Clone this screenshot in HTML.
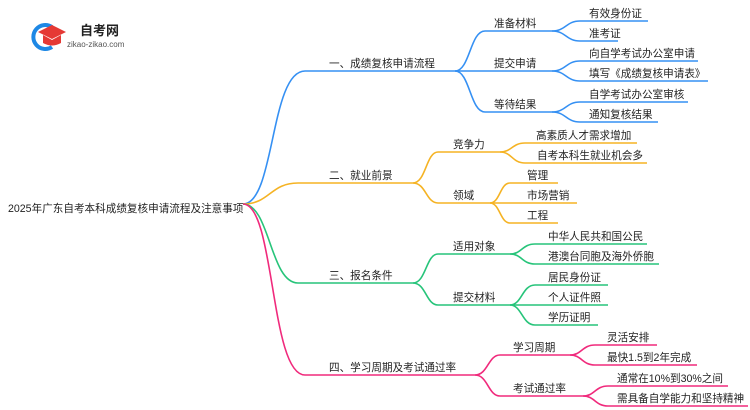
<!DOCTYPE html>
<html><head><meta charset="utf-8"><style>
html,body{margin:0;padding:0;background:#fff;width:750px;height:410px;overflow:hidden}
text{font-family:"Liberation Sans","Noto Sans CJK SC",sans-serif;font-size:10.6px;fill:#222}
</style></head><body>
<svg width="750" height="410" viewBox="0 0 750 410" xmlns="http://www.w3.org/2000/svg">
<!-- logo -->
<path d="M52 27 A12 12 0 1 0 52 47" fill="none" stroke="#1e88e5" stroke-width="4"/>
<path d="M38 32 L52 25 L66 32 L52 39 Z" fill="#e53935"/>
<path d="M43 35 L43 43 Q52 48 61 43 L61 35 L52 40 Z" fill="#e53935"/>
<text x="80" y="35" style="font-size:13px;font-weight:bold">自考网</text>
<text x="67" y="47" style="font-size:8px;fill:#555">zikao-zikao.com</text>

<text x="8" y="212" style="font-size:10.6px">2025年广东自考本科成绩复核申请流程及注意事项</text>

<g fill="none" stroke-width="1.6">
<g stroke="#3590f3">
<path d="M243 204 C275 204,270 71,305 71 L455 71"/>
<path d="M455 71 C470 71,470 31,485 31 L552 31"/>
<path d="M455 71 L552 71"/>
<path d="M455 71 C470 71,470 112,485 112 L552 112"/>
<path d="M552 31 C566 31,566 21,580 21 L648 21"/>
<path d="M552 31 C566 31,566 41,580 41 L618 41"/>
<path d="M552 71 C566 71,566 61,580 61 L698 61"/>
<path d="M552 71 C566 71,566 81,580 81 L708 81"/>
<path d="M552 112 C566 112,566 102,580 102 L688 102"/>
<path d="M552 112 C566 112,566 122,580 122 L658 122"/>
</g>
<g stroke="#f5b324">
<path d="M243 204 C270 204,270 183,298 183 L413 183"/>
<path d="M413 183 C426 183,426 152,438 152 L500 152"/>
<path d="M413 183 C426 183,426 203,438 203 L490 203"/>
<path d="M500 152 C512 152,512 143,525 143 L637 143"/>
<path d="M500 152 C512 152,512 163,525 163 L647 163"/>
<path d="M490 203 C500 203,500 183,510 183 L558 183"/>
<path d="M490 203 L577 203"/>
<path d="M490 203 C500 203,500 223,510 223 L558 223"/>
</g>
<g stroke="#27c47a">
<path d="M243 204 C270 204,270 283,298 283 L413 283"/>
<path d="M413 283 C426 283,426 254,438 254 L510 254"/>
<path d="M413 283 C426 283,426 305,438 305 L510 305"/>
<path d="M510 254 C522 254,522 244,535 244 L647 244"/>
<path d="M510 254 C522 254,522 264,535 264 L659 264"/>
<path d="M510 305 C522 305,522 285,535 285 L608 285"/>
<path d="M510 305 L608 305"/>
<path d="M510 305 C522 305,522 325,535 325 L598 325"/>
</g>
<g stroke="#f02a7c">
<path d="M243 204 C275 204,270 375,305 375 L475 375"/>
<path d="M475 375 C488 375,488 355,500 355 L570 355"/>
<path d="M475 375 C488 375,488 396,500 396 L583 396"/>
<path d="M570 355 C582 355,582 345,595 345 L657 345"/>
<path d="M570 355 C582 355,582 365,595 365 L697 365"/>
<path d="M583 396 C595 396,595 386,608 386 L728 386"/>
<path d="M583 396 C595 396,595 406,608 406 L748 406"/>
</g>
</g>

<text x="329" y="67">一、成绩复核申请流程</text>
<text x="494" y="27">准备材料</text>
<text x="494" y="67">提交申请</text>
<text x="494" y="108">等待结果</text>
<text x="589" y="17">有效身份证</text>
<text x="589" y="37">准考证</text>
<text x="589" y="57">向自学考试办公室申请</text>
<text x="589" y="77">填写《成绩复核申请表》</text>
<text x="589" y="98">自学考试办公室审核</text>
<text x="589" y="118">通知复核结果</text>

<text x="329" y="179">二、就业前景</text>
<text x="453" y="148">竞争力</text>
<text x="453" y="199">领域</text>
<text x="536" y="139">高素质人才需求增加</text>
<text x="537" y="159">自考本科生就业机会多</text>
<text x="527" y="179">管理</text>
<text x="527" y="199">市场营销</text>
<text x="527" y="219">工程</text>

<text x="329" y="279">三、报名条件</text>
<text x="453" y="250">适用对象</text>
<text x="453" y="301">提交材料</text>
<text x="548" y="240">中华人民共和国公民</text>
<text x="548" y="260">港澳台同胞及海外侨胞</text>
<text x="548" y="281">居民身份证</text>
<text x="548" y="301">个人证件照</text>
<text x="548" y="321">学历证明</text>

<text x="329" y="371">四、学习周期及考试通过率</text>
<text x="513" y="351">学习周期</text>
<text x="513" y="392">考试通过率</text>
<text x="607" y="341">灵活安排</text>
<text x="607" y="361">最快1.5到2年完成</text>
<text x="617" y="382">通常在10%到30%之间</text>
<text x="617" y="402">需具备自学能力和坚持精神</text>
</svg>
</body></html>
